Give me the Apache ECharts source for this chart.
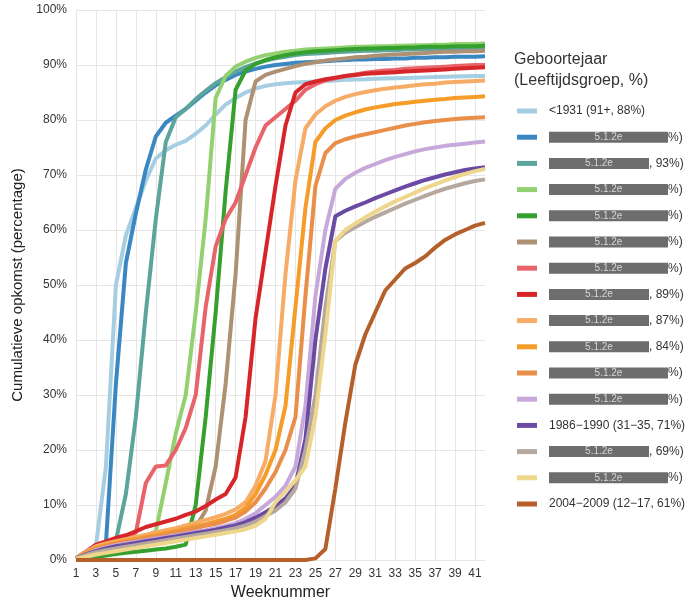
<!DOCTYPE html>
<html><head><meta charset="utf-8">
<script src="https://cdn.jsdelivr.net/npm/echarts@6/dist/echarts.min.js"></script>
<style>html,body{margin:0;padding:0;background:#fff}#c{width:685px;height:605px}</style>
</head><body><div id="c"></div>
<script>
const weeks = ['1','2','3','4','5','6','7','8','9','10','11','12','13','14','15','16','17','18','19','20','21','22','23','24','25','26','27','28','29','30','31','32','33','34','35','36','37','38','39','40','41','42'];

const s01 = [0.3,1,2.5,17,50,59,64,69,73,74.5,75.5,76.2,77.5,79,81,82.8,84,85,85.7,86.2,86.5,86.7,86.8,86.9,87,87.1,87.2,87.3,87.35,87.4,87.5,87.55,87.6,87.65,87.7,87.75,87.8,87.85,87.9,87.95,88,88];
const s02 = [0.3,1,2,3,32,54,63,71,77,79.5,80.8,82,83.5,85,86.3,87.3,88.2,88.8,89.3,89.7,90,90.2,90.4,90.5,90.6,90.7,90.8,90.9,91,91,91.1,91.1,91.2,91.2,91.3,91.3,91.4,91.4,91.5,91.5,91.5,91.6];
const s03 = [0.3,1,1.5,2,3.5,12,26,45,62,76,80.5,82,83.8,85.3,86.7,87.8,88.8,89.6,90.3,90.8,91.2,91.5,91.8,92,92.1,92.2,92.3,92.4,92.5,92.6,92.6,92.7,92.7,92.8,92.8,92.9,92.9,93,93,93,93.1,93.1];
const s04 = [0.3,1,1.8,2.3,2.8,3.3,3.8,4.3,5.2,14,23,30,45,62,84,88,89.7,90.6,91.3,91.8,92.1,92.4,92.6,92.8,92.9,93,93.1,93.2,93.3,93.3,93.4,93.4,93.5,93.5,93.6,93.6,93.7,93.7,93.8,93.8,93.8,93.9];
const s05 = [0,0.2,0.5,0.8,1.1,1.3,1.5,1.7,1.9,2.1,2.4,2.8,10,26,45,67,85.5,89,90.2,90.9,91.4,91.8,92.1,92.3,92.5,92.6,92.7,92.8,92.9,93,93,93.1,93.1,93.2,93.2,93.3,93.3,93.3,93.4,93.4,93.4,93.5];
const s06 = [0.3,1,1.5,2,2.4,2.8,3.2,3.6,4,4.4,4.8,5.3,6,9,17,32,52,80,87,88.2,88.8,89.3,89.8,90.2,90.5,90.8,91,91.2,91.4,91.5,91.7,91.8,91.9,92,92.1,92.2,92.3,92.4,92.4,92.5,92.5,92.6];
const s07 = [0.3,1.5,2.5,3,3.5,4,5,14,17,17.2,20,24,30,46,57,62,65,70,75,79,80.5,82,83.5,85.5,86.5,87.2,87.6,88,88.3,88.6,88.8,89,89.1,89.3,89.4,89.5,89.6,89.7,89.8,89.9,90,90];
const s08 = [0.3,1.5,2.8,3.4,4,4.5,5.2,6,6.5,7,7.5,8.2,8.8,9.8,11,12,15,26,44,56,68,79,85,86.5,87,87.4,87.7,88,88.2,88.4,88.5,88.6,88.7,88.8,88.9,89,89.1,89.2,89.3,89.4,89.5,89.6];
const s09 = [0.3,1.5,2.5,3,3.4,3.8,4.2,4.6,5,5.4,5.8,6.3,6.8,7.3,7.8,8.4,9.2,10.5,13.5,18,30,52,69,78.5,81,82.5,83.5,84.2,84.7,85.1,85.4,85.7,85.9,86.1,86.3,86.5,86.6,86.8,86.9,87,87.1,87.2];
const s10 = [0.3,1.3,2.2,2.7,3.1,3.5,3.8,4.2,4.5,4.9,5.3,5.7,6.1,6.5,7,7.5,8.2,9.5,12,15.5,20,28,46,64,76,78.5,80,80.8,81.4,81.9,82.3,82.6,82.9,83.1,83.3,83.5,83.7,83.8,84,84.1,84.2,84.3];
const s11 = [0.3,1.2,2,2.5,2.9,3.3,3.6,4,4.3,4.6,5,5.4,5.8,6.2,6.6,7.1,7.7,8.8,10.5,13,16,20,26,48,68,74,75.8,76.5,77,77.4,77.8,78.2,78.6,79,79.3,79.6,79.8,80,80.2,80.3,80.4,80.5];
const s12 = [0.3,1,1.8,2.3,2.7,3,3.3,3.6,3.9,4.2,4.5,4.8,5.1,5.4,5.8,6.2,6.7,7.5,8.5,10,11.5,13.5,17,28,48,60,67.5,69.3,70.4,71.3,72,72.7,73.3,73.8,74.3,74.7,75,75.3,75.5,75.7,75.9,76.1];
const s13 = [0.3,1,1.6,2.1,2.5,2.8,3.1,3.4,3.7,4,4.3,4.6,4.9,5.2,5.5,5.9,6.3,6.9,7.7,8.7,9.8,11.2,13.5,22,40,53,62.5,63.5,64.3,65,65.8,66.5,67.2,67.9,68.5,69.1,69.6,70.1,70.5,70.9,71.2,71.4];
const s14 = [0.3,0.9,1.4,1.8,2.1,2.4,2.7,3,3.3,3.6,3.9,4.2,4.5,4.8,5.1,5.4,5.8,6.3,7,8,9,10.5,13,20,30,46,58,59.5,60.5,61.5,62.4,63.2,64,64.8,65.5,66.2,66.9,67.5,68,68.5,68.9,69.2];
const s15 = [0.2,0.6,1,1.3,1.6,1.9,2.2,2.5,2.8,3.1,3.4,3.7,4,4.3,4.6,4.9,5.2,5.6,6.2,7.5,10.5,12.5,14.5,17,26,41,58,60,61.2,62.3,63.3,64.3,65.2,66,66.8,67.6,68.3,69,69.6,70.2,70.7,71.1];
const s16 = [0,0,0,0,0,0,0,0,0,0,0,0,0,0,0,0,0,0,0,0,0,0,0,0,0.3,2,13,25,35.5,41,45,49,51,53,54,55.2,56.8,58.2,59.2,60,60.8,61.3];

const seriesValues = [s01,s02,s03,s04,s05,s06,s07,s08,s09,s10,s11,s12,s13,s14,s15,s16];
const seriesNames = ['<1931 (91+, 88%)','groep 2','groep 3','groep 4','groep 5','groep 6','groep 7','groep 8','groep 9','groep 10','groep 11','groep 12','1986−1990 (31−35, 71%)','groep 14','groep 15','2004−2009 (12−17, 61%)'];
// visible legend text: full label, or the visible tail after the grey redaction box
const legendVisible = ['<1931 (91+, 88%)','','','','','','','','','','','','1986−1990 (31−35, 71%)','','','2004−2009 (12−17, 61%)'];
const legendSuffix = ['','%)',', 93%)','%)','%)','%)','%)',', 89%)',', 87%)',', 84%)','%)','%)','',', 69%)','%)',''];
const redactionCode = '5.1.2e';
const colors = ['#a6cee3','#3a87c1','#5ca59c','#93d170','#35a02e','#ad9172','#e8636a','#d62629','#f6ab66','#f59c29','#e98f4a','#c6a9da','#6a4aa2','#b5a89e','#eed68c','#b5602a'];

const chart = echarts.init(document.getElementById('c'), null, {renderer:'canvas'});
const FONT = 'Liberation Sans, Arial, sans-serif';
chart.setOption({
  animation:false,
  backgroundColor:'#fff',
  textStyle:{fontFamily:FONT},
  title:{text:'Geboortejaar\n(Leeftijdsgroep, %)', left:509, top:44,
    textStyle:{fontSize:16, fontWeight:'normal', color:'#333', lineHeight:21, fontFamily:FONT}},
  grid:{left:76, right:200, top:10, bottom:45, outerBoundsMode:'none', containLabel:false},
  legend:{
    orient:'vertical', left:512, top:100, itemWidth:20, itemHeight:5, itemGap:14.2,
    icon:'rect', data:seriesNames,
    formatter:function(name){
      const i = seriesNames.indexOf(name);
      if (legendVisible[i]) return '{sp|}{t|'+legendVisible[i]+'}';
      const key = legendSuffix[i]==='%)' ? 'bl' : 'bs';
      return '{sp|}{'+key+'|'+redactionCode+'}{t|'+legendSuffix[i]+'}';
    },
    textStyle:{fontFamily:FONT, rich:{
      sp:{width:7, lineHeight:14},
      t:{fontSize:12, color:'#333', lineHeight:14, fontFamily:FONT},
      bl:{backgroundColor:'#6d6d6d', color:'#d6d6d6', fontSize:10, width:119, height:11, align:'center', lineHeight:14, fontFamily:FONT},
      bs:{backgroundColor:'#6d6d6d', color:'#d6d6d6', fontSize:10, width:100, height:11, align:'center', lineHeight:14, fontFamily:FONT}
    }}
  },
  xAxis:{type:'category', data:weeks, boundaryGap:false,
    axisLine:{show:false}, axisTick:{show:false},
    axisLabel:{interval:1, color:'#333', fontSize:12, margin:8, fontFamily:FONT},
    splitLine:{show:true, interval:1, lineStyle:{color:'#e6e6e6', width:1}},
    name:'Weeknummer', nameLocation:'middle', nameGap:24,
    nameTextStyle:{fontSize:16, color:'#222', fontFamily:FONT}},
  yAxis:{type:'value', min:0, max:100, interval:10,
    axisLine:{show:false}, axisTick:{show:false},
    axisLabel:{formatter:'{value}%', color:'#333', fontSize:12, margin:9, fontFamily:FONT},
    splitLine:{lineStyle:{color:'#e6e6e6', width:1}},
    name:'Cumulatieve opkomst (percentage)', nameLocation:'middle', nameGap:45,
    nameTextStyle:{fontSize:15, color:'#222', fontFamily:FONT}},
  series: seriesValues.map((vals,i)=>({
    name:seriesNames[i], type:'line', data:vals, showSymbol:false, symbol:'none',
    color:colors[i], lineStyle:{width:4, color:colors[i]}, emphasis:{disabled:true}
  }))
});
</script></body></html>
